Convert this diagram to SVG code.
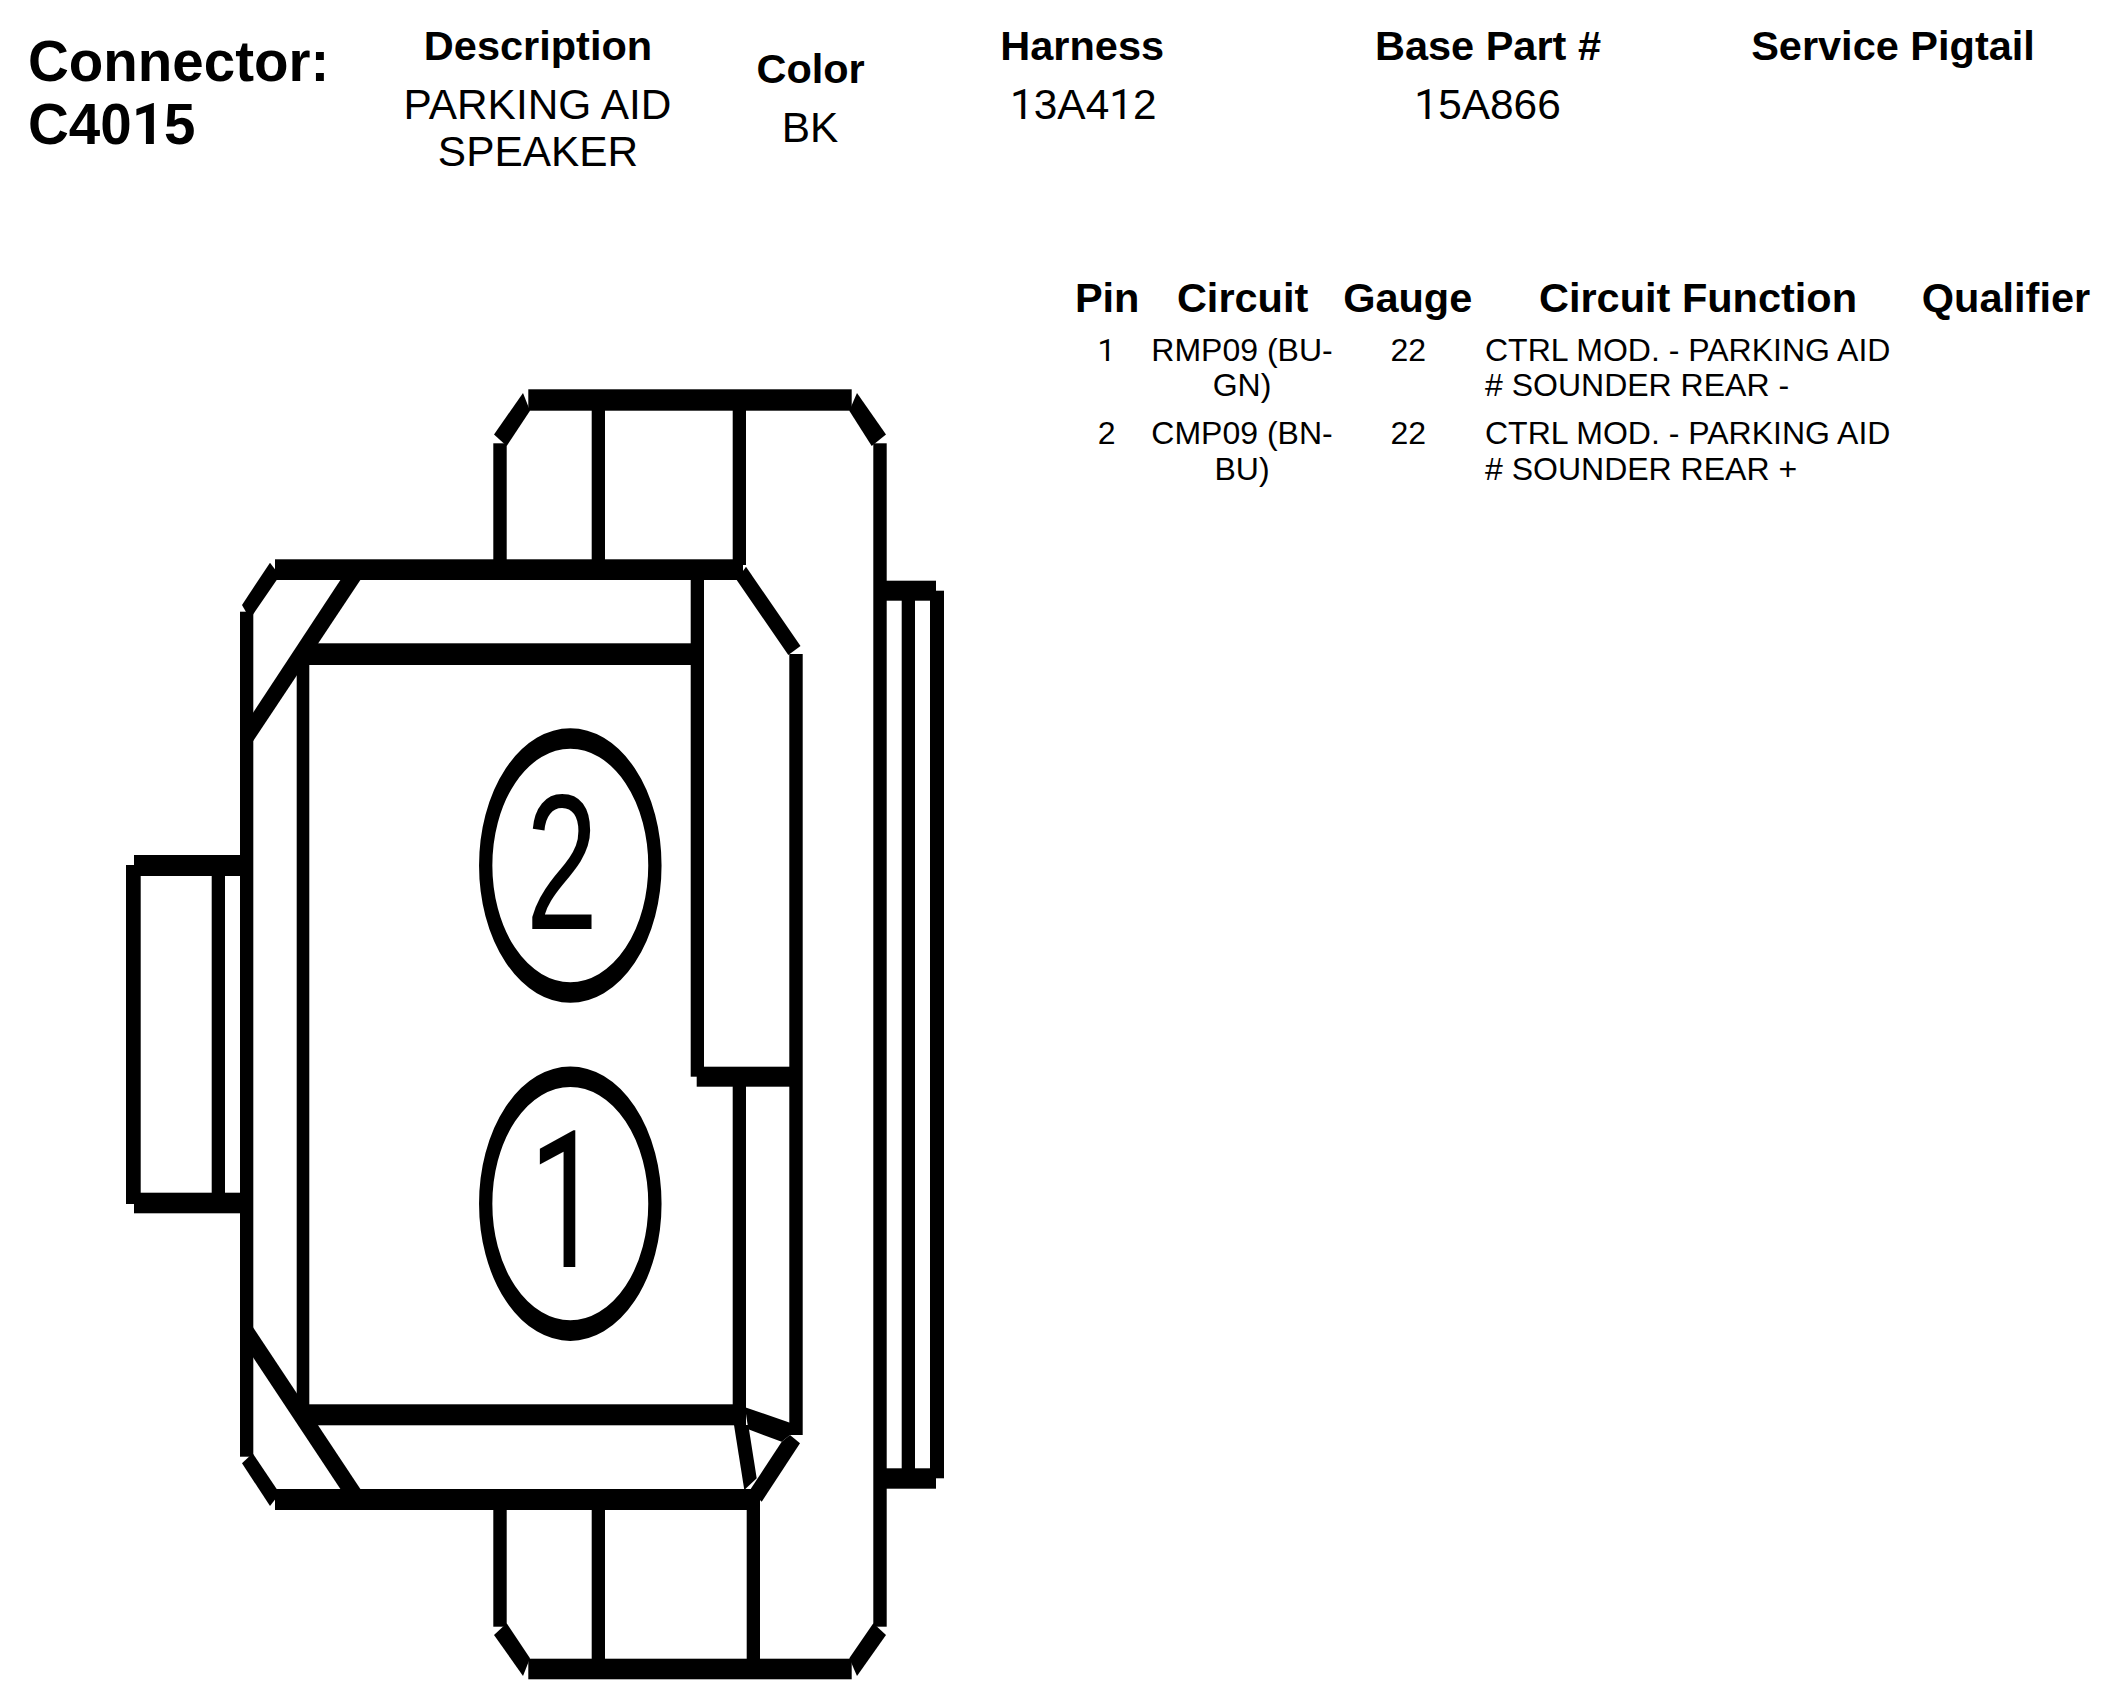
<svg xmlns="http://www.w3.org/2000/svg" width="2116" height="1708" viewBox="0 0 2116 1708">
<style>
text{font-family:"Liberation Sans",Arial,sans-serif;fill:#000}
.t{font-size:56.5px;font-weight:700}
.h{font-size:41.5px;font-weight:700;text-anchor:middle}
.v{font-size:42.4px;text-anchor:middle}
.c{font-size:32px;text-anchor:middle}
.l{font-size:32px}
.d{font-size:130px;text-anchor:middle}
.a{font-family:Roboto,"Liberation Sans",sans-serif}
.k{fill:#000;stroke:none}
.o{fill:none;stroke:#000;stroke-width:13.3}
</style>
<rect width="2116" height="1708" fill="#fff"/>
<g id="header">
<text class="t" x="28" y="81">Connector:</text>
<text class="t" x="28" y="144">C40<tspan class="a">1</tspan>5</text>
<text class="h" x="538" y="60">Description</text>
<text class="v" x="537.5" y="118.6">PARKING AID</text>
<text class="v" x="538" y="165.5">SPEAKER</text>
<text class="h" x="810.6" y="83">Color</text>
<text class="v" x="810" y="141.6">BK</text>
<text class="h" x="1082.2" y="60">Harness</text>
<text class="v" x="1083.3" y="118.6"><tspan class="a">1</tspan>3A4<tspan class="a">1</tspan>2</text>
<text class="h" x="1488" y="60">Base Part #</text>
<text class="v" x="1487.5" y="118.6"><tspan class="a">1</tspan>5A866</text>
<text class="h" x="1893" y="60">Service Pigtail</text>
</g>
<g id="table">
<text class="h" x="1107.2" y="312">Pin</text>
<text class="h" x="1242.6" y="312">Circuit</text>
<text class="h" x="1407.7" y="312">Gauge</text>
<text class="h" x="1698" y="312">Circuit Function</text>
<text class="h" x="2006" y="312">Qualifier</text>
<text class="c a" x="1106.6" y="360.5">1</text>
<text class="c" x="1242" y="360.5">RMP09 (BU-</text>
<text class="c" x="1242" y="395.5">GN)</text>
<text class="c" x="1408.2" y="360.5">22</text>
<text class="l" x="1485" y="360.5">CTRL MOD. - PARKING AID</text>
<text class="l" x="1485" y="395.5"># SOUNDER REAR -</text>
<text class="c" x="1106.6" y="443.5">2</text>
<text class="c" x="1242" y="443.5">CMP09 (BN-</text>
<text class="c" x="1242" y="479.5">BU)</text>
<text class="c" x="1408.2" y="443.5">22</text>
<text class="l" x="1485" y="443.5">CTRL MOD. - PARKING AID</text>
<text class="l" x="1485" y="479.5"># SOUNDER REAR +</text>
</g>
<g id="connector-body" class="k">
<rect x="528.3" y="389.3" width="323.4" height="21.4"/>
<rect x="493.3" y="443.3" width="13.4" height="120"/>
<rect x="591.7" y="405" width="13.3" height="160"/>
<rect x="732.7" y="405" width="13.3" height="160"/>
<polygon points="523,393 530,410.7 506.7,446 494,434.5"/>
<polygon points="857,393 849.3,410.7 871.7,446 886,434.5"/>
<rect x="873.3" y="443.3" width="13.4" height="1183.4"/>
<rect x="275" y="559.3" width="468" height="20.7"/>
<polygon points="746,566.7 736.7,580 788.3,655 800.5,646"/>
<rect x="240" y="611.7" width="13.3" height="845"/>
<polygon points="270,562.7 277,572 276.7,580 252.7,615 246,612 242,605"/>
<polygon points="341.7,578 361.7,578 252.7,741.7 252.7,713.3"/>
<rect x="296.7" y="660" width="12.6" height="746"/>
<rect x="305" y="643.3" width="390" height="21.7"/>
<rect x="690.7" y="580" width="13.3" height="496.7"/>
<rect x="696.7" y="1066.7" width="100" height="20"/>
<rect x="789.3" y="654" width="13.4" height="781"/>
<rect x="732.7" y="1080" width="13.3" height="326"/>
<rect x="305" y="1404.3" width="441" height="21"/>
<polygon points="745,1407.3 790,1422.7 790,1435 781.7,1441.7 748.3,1429.3"/>
<polygon points="734,1425 748.3,1425 756.7,1478.3 744.3,1490"/>
<polygon points="790,1435 800,1443.3 761.7,1501.7 750,1490 781.7,1441.7"/>
<polygon points="252.7,1326.7 361.7,1491 341.7,1491 252.7,1356.7"/>
<rect x="275" y="1489" width="485" height="21"/>
<polygon points="242,1463.3 252.7,1453.3 276.7,1489 277,1497 270,1506"/>
<rect x="493.3" y="1508" width="13.4" height="118.7"/>
<rect x="591.7" y="1508" width="13.3" height="152"/>
<rect x="746.7" y="1500" width="13.3" height="160"/>
<rect x="528.3" y="1658.7" width="323.4" height="20.6"/>
<polygon points="506.7,1623.3 530,1658.3 523,1676 494,1635"/>
<polygon points="873.3,1623.3 886,1635 857,1676 849.3,1658.3"/>
</g>
<g id="right-tab" class="k">
<rect x="880" y="580.7" width="56" height="20"/>
<rect x="901.7" y="598" width="13.3" height="872"/>
<rect x="930" y="590.7" width="14" height="887.6"/>
<rect x="880" y="1468.3" width="56" height="20.4"/>
</g>
<g id="left-tab" class="k">
<rect x="126" y="865" width="14.7" height="339"/>
<rect x="134" y="855" width="110" height="21"/>
<rect x="134" y="1192.7" width="110" height="20.6"/>
<rect x="211.7" y="870" width="13.3" height="328"/>
</g>
<g id="pin-2">
<ellipse class="o" transform="translate(570.3 865.5) scale(1 1.55)" rx="84.6" ry="81.9"/>
<text class="d" transform="translate(562 929.3) scale(1 1.48)">2</text>
</g>
<g id="pin-1">
<ellipse class="o" transform="translate(570.3 1203.7) scale(1 1.55)" rx="84.6" ry="81.9"/>
<text class="d a" transform="translate(565.5 1266.7) scale(1 1.47)">1</text>
</g>
</svg>
